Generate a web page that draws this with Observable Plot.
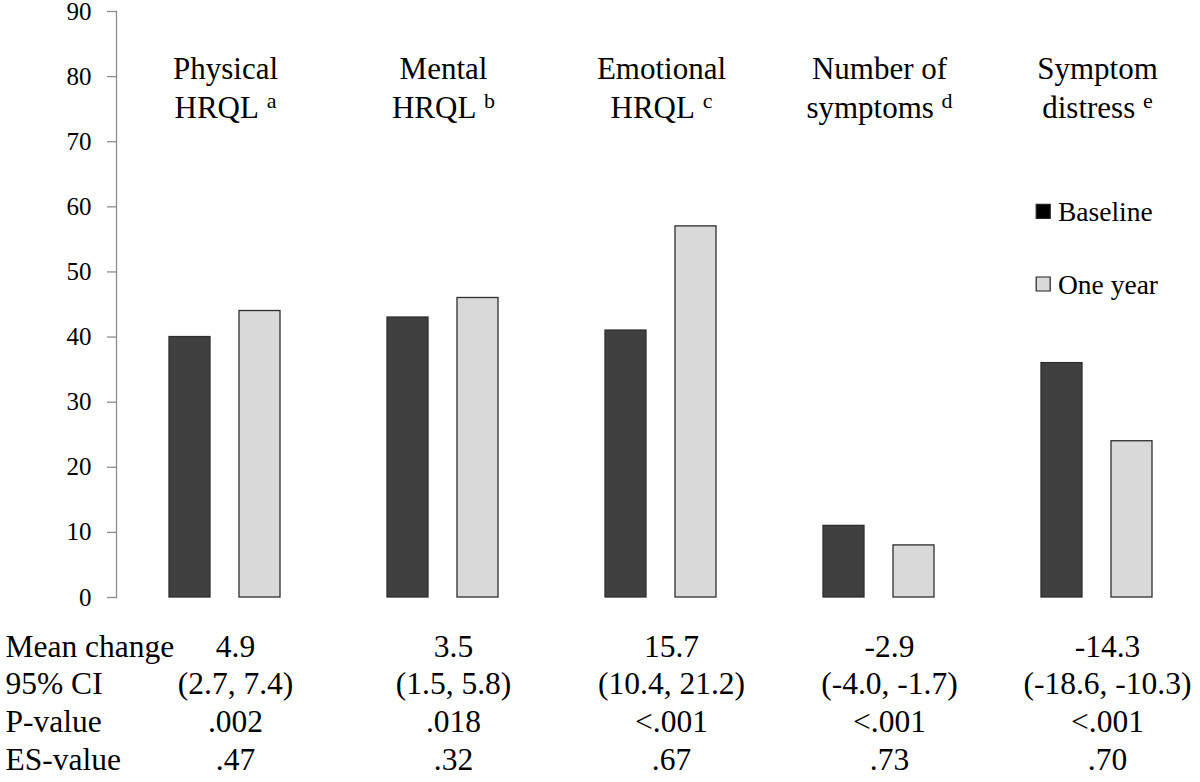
<!DOCTYPE html>
<html>
<head>
<meta charset="utf-8">
<script src="https://cdn.jsdelivr.net/npm/d3@7"></script>
<script src="https://cdn.jsdelivr.net/npm/@observablehq/plot@0.6"></script>
<style>
  html, body { margin: 0; padding: 0; background: #ffffff; }
  #chart { width: 1200px; height: 782px; overflow: hidden; }
  #chart svg, #chart svg text { font-family: 'Liberation Serif', 'Times New Roman', Times, serif; }
</style>
</head>
<body>
<div id="chart"></div>
<script>
// ---- data ----
const categories = ["Physical HRQL", "Mental HRQL", "Emotional HRQL", "Number of symptoms", "Symptom distress"];
const labelLine1 = ["Physical", "Mental", "Emotional", "Number of", "Symptom"];
const labelLine2 = ["HRQL", "HRQL", "HRQL", "symptoms", "distress"];
const labelSup = ["a", "b", "c", "d", "e"];
const series = ["Baseline", "One year"];
const baseline = [40, 43, 41, 11, 36];
const oneYear = [44, 46, 57, 8, 24];
const rowLabels = ["Mean change", "95% CI", "P-value", "ES-value"];
const meanChange = ["4.9", "3.5", "15.7", "-2.9", "-14.3"];
const ci95 = ["(2.7, 7.4)", "(1.5, 5.8)", "(10.4, 21.2)", "(-4.0, -1.7)", "(-18.6, -10.3)"];
const pValue = [".002", ".018", "<.001", "<.001", "<.001"];
const esValue = [".47", ".32", ".67", ".73", ".70"];
const yTicks = [0, 10, 20, 30, 40, 50, 60, 70, 80, 90];

// ---- styles ----
const FONT = "'Liberation Serif', 'Times New Roman', Times, serif";
const seriesColors = ["#404040", "#d9d9d9"];
const legendFill = ["#000000", "#d9d9d9"];
const axisGray = "#8c8c8c";

// ---- derived tables ----
const bars = categories.flatMap((c, i) => [
  {category: c, series: series[0], value: baseline[i]},
  {category: c, series: series[1], value: oneYear[i]}
]);
const labels = categories.map((c, i) => ({
  category: c, line1: labelLine1[i], line2: labelLine2[i], sup: labelSup[i]
}));
const stats = categories.map((c, i) => ({
  category: c, text: [meanChange[i], ci95[i], pValue[i], esValue[i]].join("\n")
}));

const legendMarks = series.flatMap((s, i) => [
  Plot.dot([s], {
    fx: () => categories[categories.length - 1],
    frameAnchor: "top-left", dx: 54.7, dy: [199.8, 272.5][i],
    symbol: "square", r: 7.9, fill: legendFill[i], stroke: "#222", strokeWidth: 1.2
  }),
  Plot.text([s], {
    fx: () => categories[categories.length - 1],
    text: d => d, frameAnchor: "top-left", textAnchor: "start", lineAnchor: "middle",
    dx: 69.5, dy: [200.5, 273.5][i], fontSize: 27.5, fill: "black"
  })
]);

const TABLE_FS = 31.5;
const plot = Plot.plot({
  width: 1200,
  height: 782,
  marginTop: 11,
  marginBottom: 185,
  marginLeft: 114,
  marginRight: 0,
  style: "font-family: " + FONT + "; background: #ffffff; color: black; overflow: visible;",
  fx: {domain: categories, range: [114.2, 1207.5], padding: 0, axis: null},
  x: {domain: series, paddingInner: 0.408, paddingOuter: 0.744, axis: null},
  y: {domain: [0, 90]},
  color: {domain: series, range: seriesColors},
  marks: [
    Plot.axisY({
      ticks: yTicks, tickSize: 9, tickPadding: 16, fontSize: 25,
      stroke: axisGray, strokeWidth: 1.3, fill: "black", label: null
    }),
    Plot.frame({anchor: "left", facetAnchor: "left", stroke: axisGray, strokeWidth: 1.3}),
    Plot.barY(bars, {
      fx: "category", x: "series", y: "value", fill: "series",
      stroke: "#2e2e2e", strokeWidth: 1.3
    }),
    Plot.text(labels, {
      fx: "category",
      text: d => d.line1 + "\n" + d.line2 + " " + d.sup,
      frameAnchor: "top", lineAnchor: "top", dy: 40,
      fontSize: 31, lineHeight: 1.258, fill: "black"
    }),
    Plot.text(stats, {
      fx: "category", text: "text",
      frameAnchor: "bottom", lineAnchor: "top", dy: 32.3, dx: 10,
      fontSize: TABLE_FS, lineHeight: 37.7 / TABLE_FS, fill: "black"
    }),
    Plot.text([rowLabels.join("\n")], {
      fx: () => categories[0], text: d => d,
      frameAnchor: "bottom-left", textAnchor: "start", lineAnchor: "top",
      dx: -111, dy: 32.3, fontSize: TABLE_FS, lineHeight: 37.7 / TABLE_FS, fill: "black"
    }),
    ...legendMarks
  ]
});

// superscript footnote letters on the category labels
const supLines = new Map(labels.map(d => [d.line2 + " " + d.sup, d]));
const svgNS = "http://www.w3.org/2000/svg";
Array.from(plot.querySelectorAll("tspan")).forEach(ts => {
  const d = supLines.get(ts.textContent);
  if (!d) return;
  ts.textContent = d.line2 + "\u00a0";
  const sup = document.createElementNS(svgNS, "tspan");
  sup.setAttribute("font-size", "22");
  sup.setAttribute("dy", "-10");
  sup.textContent = d.sup;
  ts.appendChild(sup);
});

document.getElementById("chart").appendChild(plot);
</script>
</body>
</html>
